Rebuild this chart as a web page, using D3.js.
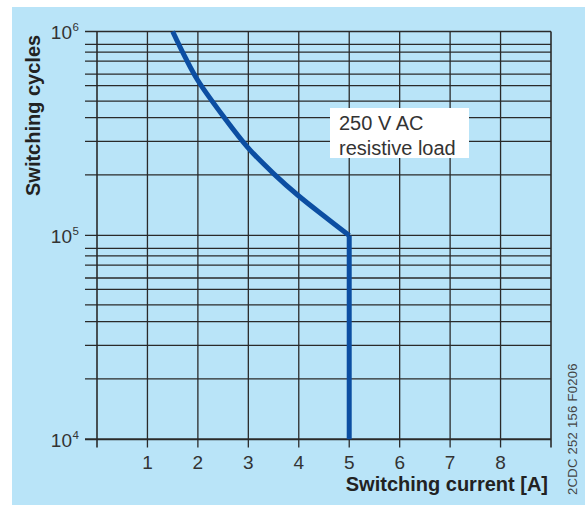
<!DOCTYPE html>
<html><head><meta charset="utf-8">
<script src="https://cdn.jsdelivr.net/npm/d3@7"></script>
<style>body{margin:0;background:#fff}svg{display:block}text{font-family:"Liberation Sans",Arial,sans-serif}</style>
</head><body><svg id="c" width="585" height="505"></svg>
<script>
// Data
const curveCurrent = [1.5, 1.75, 2.0, 2.5, 3.0, 3.5, 4.0, 4.5, 5.0, 5.0];
const curveCycles  = [1e6, 7.46e5, 5.75e5, 3.85e5, 2.68e5, 2.01e5, 1.56e5, 1.245e5, 1.0e5, 1e4];
const xTicks = [1, 2, 3, 4, 5, 6, 7, 8];
const xGrid = [0, 1, 2, 3, 4, 5, 6, 7, 8, 9];
const decades = [1e4, 1e5];
const gridFactors = [10, 8.64, 7.93, 7.15, 6.18, 5.43, 4.56, 3.78, 2.89, 1.98];
const yTickLabels = [{v:1e6, e:"6"}, {v:1e5, e:"5"}, {v:1e4, e:"4"}];
const note = ["250 V AC", "resistive load"];
const xTitle = "Switching current [A]";
const yTitle = "Switching cycles";
const code = "2CDC 252 156 F0206";

const svg = d3.select("#c");
svg.append("rect").attr("x", 12).attr("y", 7).attr("width", 573).attr("height", 498).attr("fill", "#b9e4f8");

const L = 97, R = 551, T = 31.5, B = 439.3;
const x = d3.scaleLinear().domain([0, 9]).range([L, R]);
const y = d3.scaleLog().domain([1e4, 1e6]).range([B, T]);
const ink = "#2a2a2a";

// horizontal grid lines
const hVals = [];
decades.forEach(d => gridFactors.forEach(f => hVals.push(d * f)));
hVals.push(1e4);
svg.append("g").selectAll("line").data(hVals).join("line")
  .attr("x1", 85).attr("x2", R)
  .attr("y1", d => y(d)).attr("y2", d => y(d))
  .attr("stroke", ink).attr("stroke-width", d => d === 1e4 ? 2 : 1.3);

// vertical grid lines
svg.append("g").selectAll("line").data(xGrid).join("line")
  .attr("x1", d => x(d)).attr("x2", d => x(d))
  .attr("y1", T).attr("y2", 447.5)
  .attr("stroke", ink).attr("stroke-width", d => (d === 0 || d === 9) ? 1.6 : 1.3);

// x tick labels
svg.append("g").selectAll("text").data(xTicks).join("text")
  .attr("x", d => x(d)).attr("y", 468.5).attr("text-anchor", "middle")
  .attr("font-size", 19).attr("fill", "#333").text(d => d);

// y tick labels
svg.append("g").selectAll("text").data(yTickLabels).join("text")
  .attr("x", 72).attr("y", d => y(d.v) + 7.5).attr("text-anchor", "end")
  .attr("font-size", 19).attr("fill", "#333").text("10");
svg.append("g").selectAll("text").data(yTickLabels).join("text")
  .attr("x", 72.5).attr("y", d => y(d.v) - 0.5)
  .attr("font-size", 11.5).attr("fill", "#333").text(d => d.e);

// curve
const pts = curveCurrent.map((c, i) => [c, curveCycles[i]]);
const n = pts.length;
svg.append("path").datum(pts.slice(0, n - 1))
  .attr("d", d3.line().x(d => x(d[0])).y(d => y(d[1])).curve(d3.curveCatmullRom.alpha(0.5)))
  .attr("fill", "none").attr("stroke", "#0c4ea2").attr("stroke-width", 5);
svg.append("path").datum(pts.slice(n - 2))
  .attr("d", d3.line().x(d => x(d[0])).y(d => y(d[1])))
  .attr("fill", "none").attr("stroke", "#0c4ea2").attr("stroke-width", 5);

// annotation
svg.append("rect").attr("x", 330).attr("y", 108).attr("width", 139).attr("height", 50).attr("fill", "#fff");
svg.append("g").selectAll("text").data(note).join("text")
  .attr("x", 339).attr("y", (d, i) => 129.5 + i * 25)
  .attr("font-size", 20).attr("fill", "#333").text(d => d);

// axis titles
svg.append("text").attr("x", 548).attr("y", 491).attr("text-anchor", "end")
  .attr("font-size", 20).attr("font-weight", "bold").attr("fill", "#222").text(xTitle);
svg.append("text").attr("transform", "translate(40,196) rotate(-90)")
  .attr("font-size", 20).attr("font-weight", "bold").attr("fill", "#222").text(yTitle);
svg.append("text").attr("transform", "translate(576.5,495) rotate(-90)")
  .attr("font-size", 13).attr("fill", "#444").attr("letter-spacing", 0.3).text(code);
</script></body></html>
